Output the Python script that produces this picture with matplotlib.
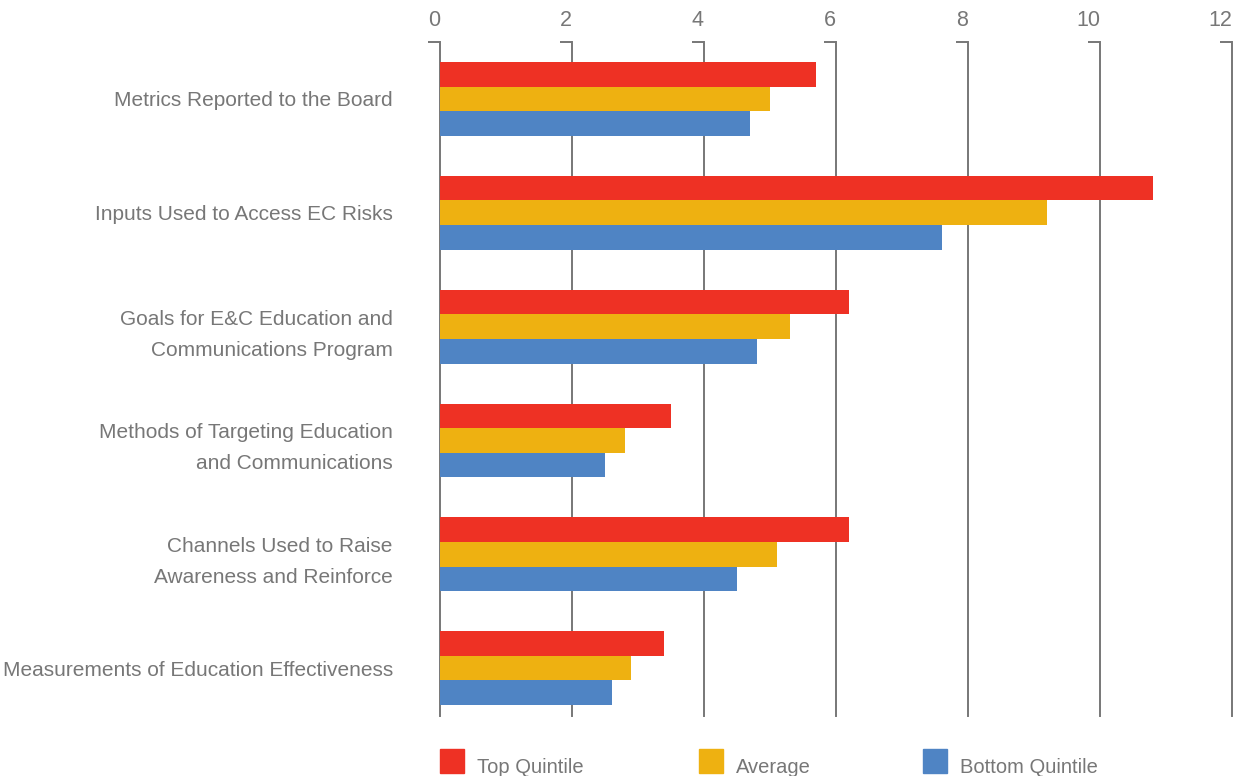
import matplotlib
matplotlib.use("Agg")
import matplotlib.pyplot as plt
from matplotlib.patches import Rectangle
import numpy as np

categories = ["Metrics Reported to the Board",
              "Inputs Used to Access EC Risks",
              "Goals for E&C Education and\nCommunications Program",
              "Methods of Targeting Education\nand Communications",
              "Channels Used to Raise\nAwareness and Reinforce",
              "Measurements of Education Effectiveness"]
top_quintile = [5.7, 10.8, 6.2, 3.5, 6.2, 3.4]
average = [5.0, 9.2, 5.3, 2.8, 5.1, 2.9]
bottom_quintile = [4.7, 7.6, 4.8, 2.5, 4.5, 2.6]
series_names = ["Top Quintile", "Average", "Bottom Quintile"]
colors = ["#EE3124", "#EEB111", "#4F84C4"]
xticks = [0, 2, 4, 6, 8, 10, 12]

grey = "#777777"
plt.rcParams['font.family'] = ['Liberation Sans', 'DejaVu Sans']

W, H = 1233, 776
fig = plt.figure(figsize=(W / 100, H / 100), dpi=100)
ax = fig.add_axes([440 / W, 1 - 716 / H, (1232 - 440) / W, (716 - 42) / H])

y = np.arange(len(categories))
h = 0.216
for i, vals in enumerate([top_quintile, average, bottom_quintile]):
    ax.barh(y - h + i * h, vals, height=h, color=colors[i], zorder=3)

ax.set_xlim(0, 12)
ax.set_ylim(5.42, -0.5)

# vertical gridlines with a small hook at the top
px = 12 / (1232 - 440)
for t in xticks:
    ax.plot([t, t], [5.42, -0.5], color=grey, lw=1.4, zorder=1, clip_on=False)
    ax.plot([t - 12 * px, t], [-0.5, -0.5], color=grey, lw=1.4, zorder=1,
            clip_on=False, solid_capstyle='butt')

for s in ax.spines.values():
    s.set_visible(False)

ax.xaxis.tick_top()
ax.set_xticks(xticks)
ax.set_xticklabels([str(t) for t in xticks], color=grey, fontsize=15.5, ha='right')
ax.tick_params(axis='x', length=0, pad=8)

ax.set_yticks(y)
ax.set_yticklabels(categories, color=grey, fontsize=15, linespacing=1.8)
ax.tick_params(axis='y', length=0, pad=34)

# legend
lx = [440, 699, 923]
for i, name in enumerate(series_names):
    fig.patches.append(Rectangle((lx[i] / W, 1 - 773 / H), 24 / W, 24 / H,
                                 transform=fig.transFigure, color=colors[i]))
    fig.text((lx[i] + 37) / W, 1 - 773 / H, name, color=grey, fontsize=14.5,
             va='baseline', ha='left')

fig.savefig("out.png", dpi=100)
